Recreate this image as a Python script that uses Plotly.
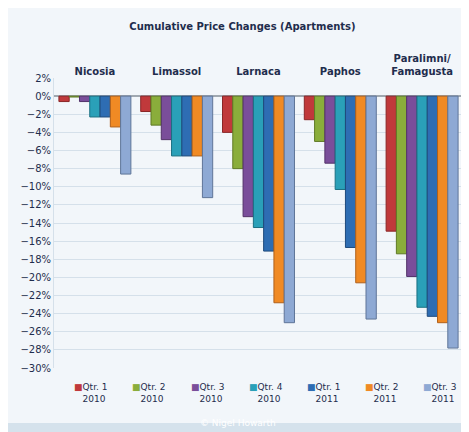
import plotly.graph_objects as go

cities = ["Nicosia", "Limassol", "Larnaca", "Paphos", "Paralimni/<br>Famagusta"]
quarters = ["Qtr. 1<br>2010", "Qtr. 2<br>2010", "Qtr. 3<br>2010", "Qtr. 4<br>2010",
            "Qtr. 1<br>2011", "Qtr. 2<br>2011", "Qtr. 3<br>2011"]
q1_10 = [-0.6, -1.7, -4.0, -2.6, -14.9]
q2_10 = [-0.1, -3.2, -8.0, -5.0, -17.4]
q3_10 = [-0.6, -4.8, -13.3, -7.4, -19.9]
q4_10 = [-2.3, -6.6, -14.5, -10.3, -23.3]
q1_11 = [-2.3, -6.6, -17.1, -16.7, -24.3]
q2_11 = [-3.4, -6.6, -22.8, -20.6, -25.0]
q3_11 = [-8.6, -11.2, -25.0, -24.6, -27.8]
series = [q1_10, q2_10, q3_10, q4_10, q1_11, q2_11, q3_11]
colors = ["#c0393b", "#8aad3b", "#7a4e9a", "#2aa0b8", "#2e6db3", "#f08a24", "#8ea9d4"]
edges = ["#8a2627", "#5f7a25", "#533369", "#1b7082", "#1e4a7c", "#b0601a", "#5f7598"]

fig = go.Figure()
for name, vals, c, e in zip(quarters, series, colors, edges):
    fig.add_trace(go.Bar(x=cities, y=vals, name=name, marker_color=c,
                         marker_line_color=e, marker_line_width=1, showlegend=False))

# hand-made legend so all seven entries fit on one row
for i, (name, c) in enumerate(zip(quarters, colors)):
    fig.add_annotation(text="<span style='color:%s'>■</span>%s" % (c, name.replace("<br>", "<br>   ")),
                       xref="paper", yref="paper", x=0.045 + i * 0.142, y=-0.04,
                       xanchor="left", yanchor="top", align="left", showarrow=False,
                       font=dict(size=9, color="#1f2d4d"))

fig.update_layout(
    width=469, height=432,
    paper_bgcolor="#f2f6fa", plot_bgcolor="#f2f6fa",
    font=dict(family="DejaVu Sans", size=10, color="#1f2d4d"),
    title=dict(text="<b>Cumulative Price Changes (Apartments)</b>", x=0.5, y=0.965,
               font=dict(size=10, color="#1f2d4d")),
    margin=dict(l=43, r=14, t=70, b=72),
    bargap=0.12, bargroupgap=0.0,
    xaxis=dict(side="top", showline=False, ticks="", tickfont=dict(size=10),
               tickprefix="<b>", ticksuffix="</b>"),
    yaxis=dict(range=[-30, 2], dtick=2, tickformat=".0f", ticksuffix="%",
               gridcolor="#d5e0ea", zeroline=True, zerolinecolor="#a0a8b0",
               zerolinewidth=1.5, showline=True, linecolor="#d5e0ea"),
)
fig.add_shape(type="rect", xref="paper", yref="paper", x0=-0.2, x1=1.1, y0=-0.3, y1=-0.19,
              fillcolor="#d5e2ec", line_width=0, layer="below")
fig.add_annotation(text="© Nigel Howarth", xref="paper", yref="paper", x=0.45, y=-0.215,
                   showarrow=False, font=dict(size=9, color="white"))
fig.write_html("out.html")
